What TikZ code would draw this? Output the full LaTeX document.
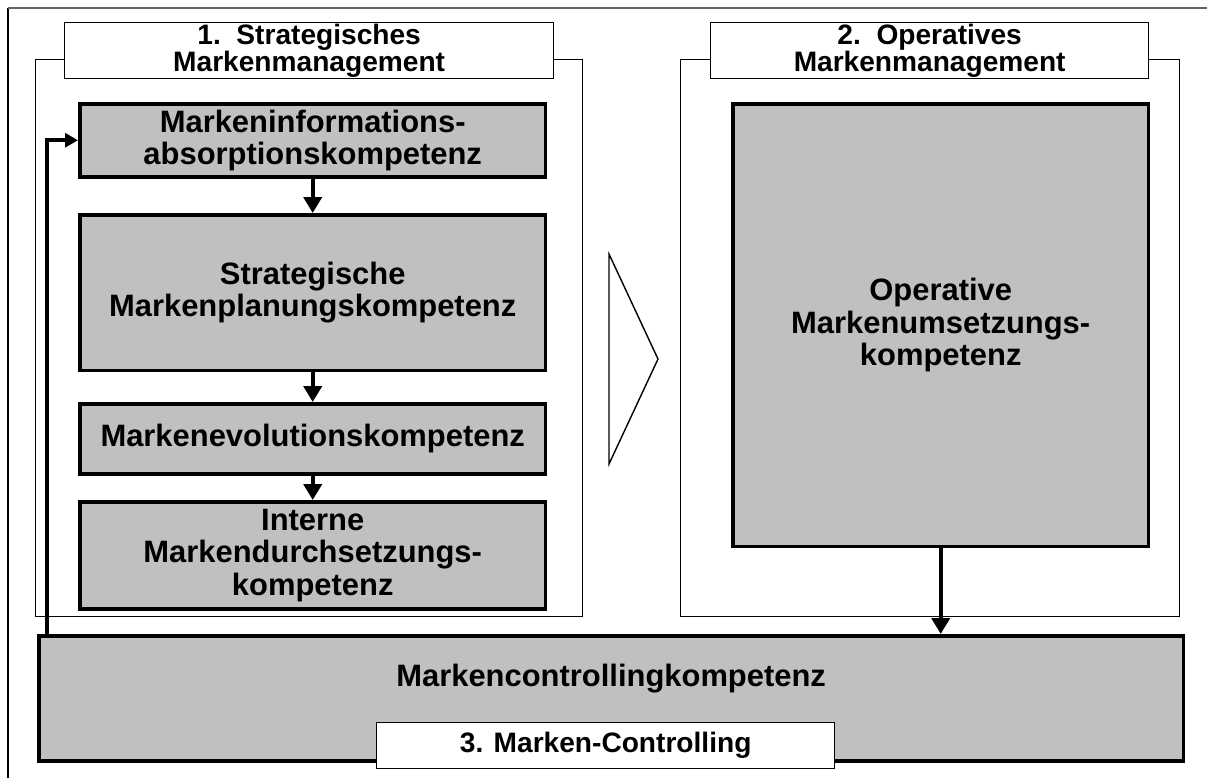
\documentclass[tikz,border=0pt]{standalone}
\usepackage{fontspec}
\setmainfont{Liberation Sans}
\usetikzlibrary{arrows.meta,positioning}
\definecolor{kbgray}{RGB}{192,192,192}
\definecolor{kbframe}{RGB}{100,100,100}

\begin{document}
\begin{tikzpicture}[x=0.02cm, y=-0.02cm,
  kbox/.style={draw, line width=2pt, fill=kbgray, anchor=north west, inner sep=0pt, align=center, font=\fontsize{17.6}{18.4}\selectfont\bfseries},
  area/.style={draw, line width=0.8pt, anchor=north west, inner sep=0pt},
  tag/.style={draw, line width=0.8pt, fill=white, anchor=north west, inner sep=0pt, align=center, font=\fontsize{16}{15}\selectfont\bfseries},
  flow/.style={-{Triangle[length=3.2mm, width=3.6mm]}, line width=2.4pt}]
\useasboundingbox (0,0) rectangle (1207,778);
% Outer frame
\draw[line width=0.8pt] (8,778) -- (8,8);
\draw[kbframe, line width=1.4pt] (8,8) -- (1207,8);
% Management areas
\node[area, minimum width=10.94cm, minimum height=11.14cm] (S1) at (35,59) {};
\node[area, minimum width=9.98cm, minimum height=11.14cm] (S2) at (680,59) {};
\node[tag, minimum width=9.78cm, minimum height=1.12cm] (H1) at (64,22) {1.\ \ Strategisches\\Markenmanagement};
\node[tag, minimum width=8.76cm, minimum height=1.12cm] (H2) at (710,22) {2.\ \ Operatives\\Markenmanagement};
% Competences
\node[kbox, minimum width=9.32cm, minimum height=1.46cm] (A) at (78,102) {Markeninformations-\\absorptionskompetenz};
\node[kbox, minimum width=9.32cm, minimum height=3.12cm] (B) at (78,213) {Strategische\\Markenplanungskompetenz};
\node[kbox, minimum width=9.32cm, minimum height=1.40cm] (C) at (78,402) {Markenevolutionskompetenz};
\node[kbox, minimum width=9.32cm, minimum height=2.14cm] (D) at (78,500) {Interne\\Markendurchsetzungs-\\kompetenz};
\node[kbox, minimum width=8.32cm, minimum height=8.86cm] (F) at (731,102) {Operative\\Markenumsetzungs-\\kompetenz};
\node[kbox, minimum width=22.9cm, minimum height=2.5cm] (E) at (37,634) {};
\node[font=\fontsize{17.6}{18.4}\selectfont\bfseries] (Etext) at ([yshift=0.39cm]E.center) {Markencontrollingkompetenz};
\node[tag, minimum width=9.16cm, minimum height=0.92cm] (L3) at (376,722) {3. Marken-Controlling};
% Transition chevron
\draw[line width=0.8pt] (609,254) -- (658,359) -- (609,464) -- cycle;
% Arrows
\draw[flow] (A) -- (B);
\draw[flow] (B) -- (C);
\draw[flow] (C) -- (D);
\draw[flow] (F.south) -- (F.south |- E.north);
\coordinate (fb) at ([xshift=0.2cm]E.north west);
\draw[flow, -{Triangle[length=2.6mm, width=2.8mm]}, line width=2pt] (fb) |- (A.west);
\end{tikzpicture}
\end{document}
